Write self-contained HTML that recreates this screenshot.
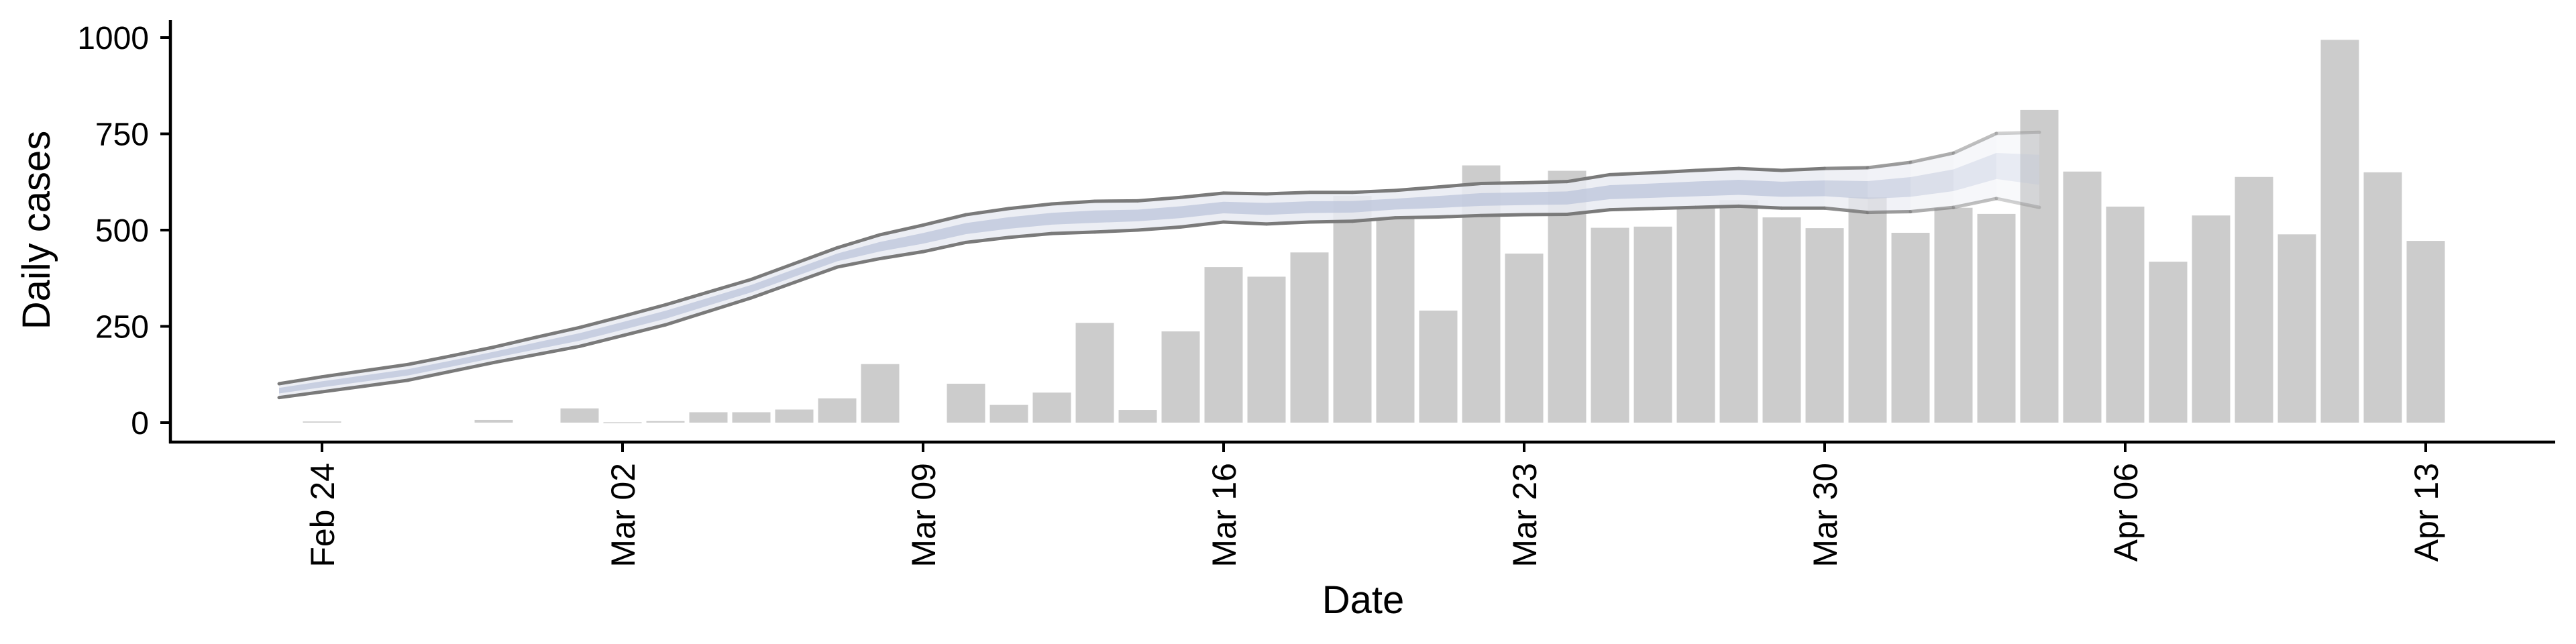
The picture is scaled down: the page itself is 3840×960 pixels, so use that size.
<!DOCTYPE html>
<html><head><meta charset="utf-8">
<style>
html,body{margin:0;padding:0;background:#fff;}
svg{display:block;font-family:"Liberation Sans",Arial,sans-serif;}
</style></head>
<body>
<svg id="chart" width="3840" height="960" viewBox="0 0 3840 960" xmlns="http://www.w3.org/2000/svg">
<g id="bars"></g>
<g id="band"></g>
<g id="axes"></g>
</svg>
<script>
// Bars: daily cases from Feb 24 (day 0) to Apr 13 (day 49)
const barStartDay = 0;
const cases = [3,0,0,0,7,0,37,1,4,27,27,34,63,152,0,101,46,78,259,33,237,404,379,442,589,530,291,668,439,654,506,509,558,578,533,505,585,493,558,542,812,652,561,418,538,638,489,994,650,472];
// Band: starts Feb 23 (day -1), ends Apr 04 (day 40)
const bandStartDay = -1;
const upper = [101,119,135,151,173,196,222,247,276,306,339,372,413,454,488,513,540,556,568,575,576,585,596,594,598,598,603,612,621,623,626,644,649,655,660,655,660,662,676,700,751,754];
const lower = [65,80,95,110,133,156,177,198,226,254,289,324,364,404,426,444,468,481,491,495,500,508,521,516,521,523,532,534,538,540,541,553,556,559,562,557,557,546,548,559,582,559];
const yTicks = [0,250,500,750,1000];
const xTickDays = [0,7,14,21,28,35,42,49];
const xTickLabels = ["Feb 24","Mar 02","Mar 09","Mar 16","Mar 23","Mar 30","Apr 06","Apr 13"];

const NS="http://www.w3.org/2000/svg";
const x0=480, pxDay=64.0;
const yZero=630, pxUnit=0.5740;
function X(d){return x0+d*pxDay;}
function Y(v){return yZero-v*pxUnit;}
function mk(tag,attrs,parent){const e=document.createElementNS(NS,tag);for(const k in attrs)e.setAttribute(k,attrs[k]);parent.appendChild(e);return e;}

const gb=document.getElementById('bars');
cases.forEach((v,i)=>{
  const d=barStartDay+i;
  if(v<=0) return;
  const r=mk('rect',{x:X(d)-28.5,y:Y(v),width:57,height:Math.max(yZero-Y(v),1.5),fill:'#cccccc'},gb);
  
  
});

const gband=document.getElementById('band');
const n=upper.length;
function opac(i){ // fade for the final days
  const d=bandStartDay+i;
  if(d<=34) return 1;
  return Math.max(0.25,1-(d-34)*0.13);
}
for(let i=0;i<n-1;i++){
  const da=bandStartDay+i, db=da+1;
  const o=opac(i);
  const p=(a,b)=>`${X(da)},${Y(a[i])} ${X(db)},${Y(a[i+1])} ${X(db)},${Y(b[i+1])} ${X(da)},${Y(b[i])}`;
  const outer=mk('polygon',{points:p(upper,lower),fill:'#e9ebf2','fill-opacity':0.85*o,stroke:'none'},gband);
  
  
  const iu=upper.map((u,k)=>lower[k]+(u-lower[k])*0.7);
  const il=upper.map((u,k)=>lower[k]+(u-lower[k])*0.3);
  const inner=mk('polygon',{points:p(iu,il),fill:'#b9c2d8','fill-opacity':0.7*o,stroke:'none'},gband);
  
  
  const lu=mk('line',{x1:X(da),y1:Y(upper[i]),x2:X(db),y2:Y(upper[i+1]),stroke:'#7a7a7a','stroke-opacity':o,'stroke-width':5,'stroke-linecap':'round'},gband);
  
  
  const ll=mk('line',{x1:X(da),y1:Y(lower[i]),x2:X(db),y2:Y(lower[i+1]),stroke:'#7a7a7a','stroke-opacity':o,'stroke-width':5,'stroke-linecap':'round'},gband);
  
  
}

const ga=document.getElementById('axes');
const ya=mk('line',{x1:254,y1:30,x2:254,y2:661,stroke:'#000','stroke-width':4.5},ga);


const xa=mk('line',{x1:252,y1:659,x2:3809,y2:659,stroke:'#000','stroke-width':4.5},ga);


yTicks.forEach(v=>{
  const t=mk('line',{x1:239,y1:Y(v),x2:254,y2:Y(v),stroke:'#000','stroke-width':4},ga);
  
  
  const l=mk('text',{x:222,y:Y(v)+17,'text-anchor':'end','font-size':48,fill:'#000'},ga);
  l.textContent=v;
  
  
});
xTickDays.forEach((d,i)=>{
  const t=mk('line',{x1:X(d),y1:659,x2:X(d),y2:674,stroke:'#000','stroke-width':4},ga);
  
  
  const l=mk('text',{x:0,y:0,'text-anchor':'end','font-size':50,fill:'#000',transform:`translate(${X(d)+18},690) rotate(-90)`},ga);
  l.textContent=xTickLabels[i];
  
  
});
const yt=mk('text',{x:0,y:0,'text-anchor':'middle','font-size':58,fill:'#000',transform:'translate(74,343) rotate(-90)'},ga);
yt.textContent='Daily cases';


const xt=mk('text',{x:2032,y:914,'text-anchor':'middle','font-size':58,fill:'#000'},ga);
xt.textContent='Date';


</script>
</body></html>
